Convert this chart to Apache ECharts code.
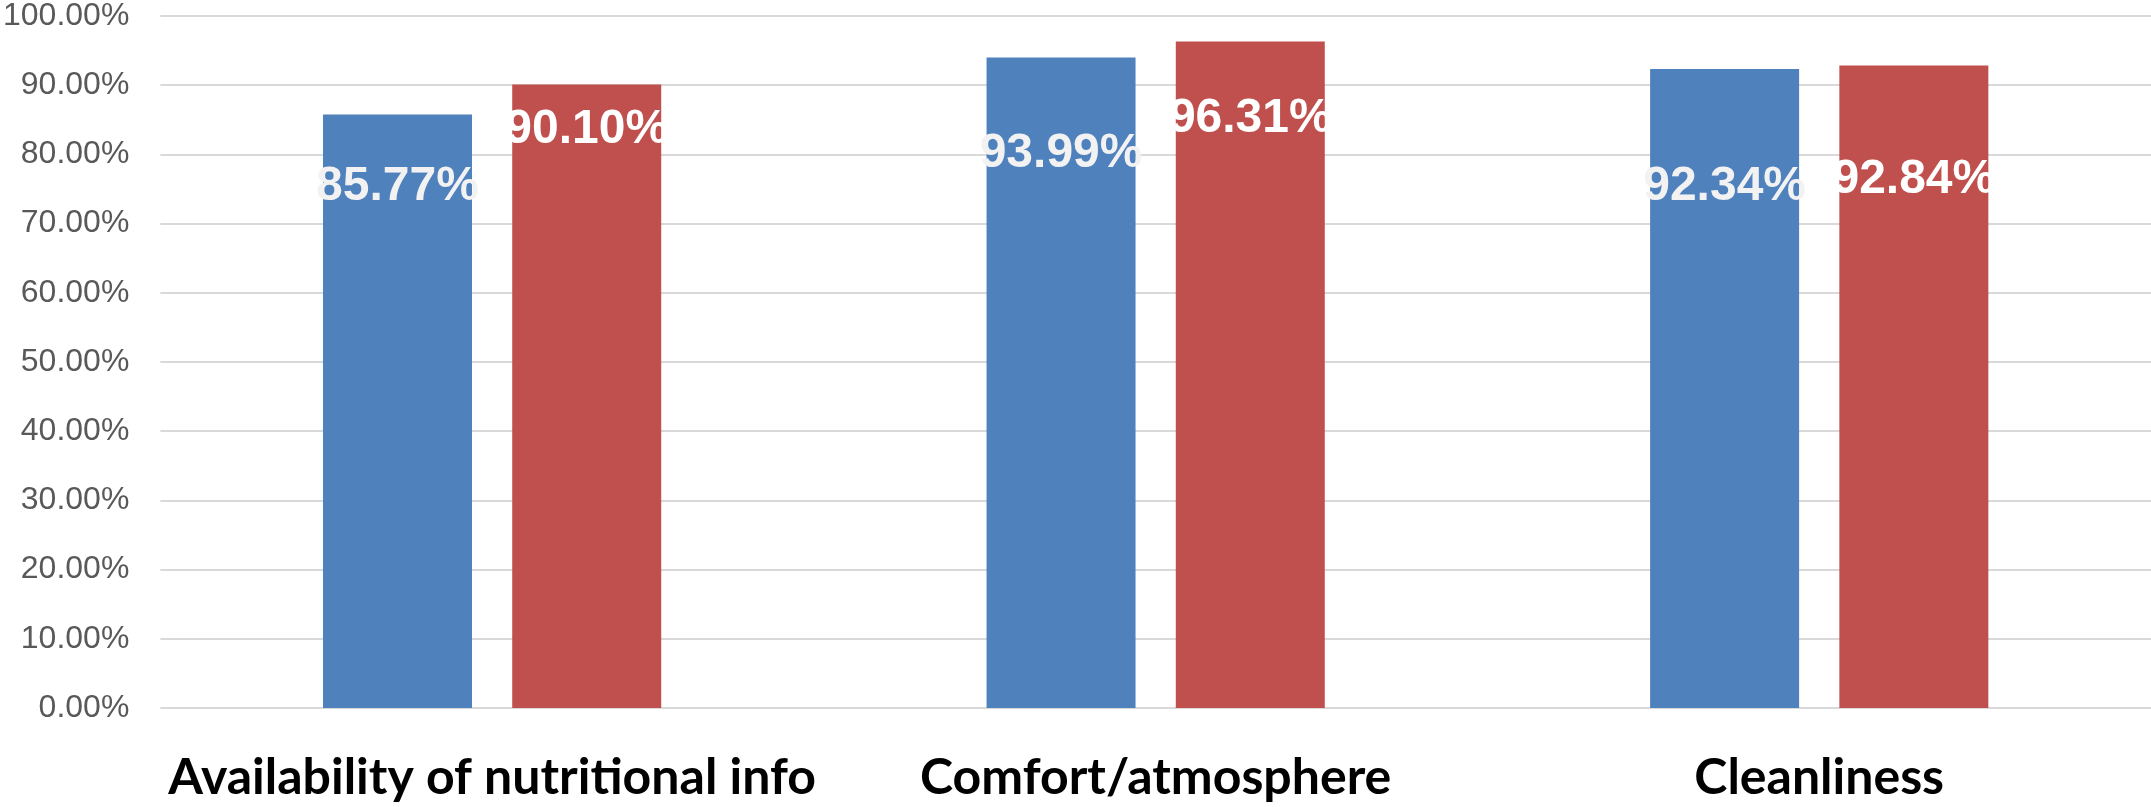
<!DOCTYPE html>
<html>
<head>
<meta charset="utf-8">
<script src="https://cdn.jsdelivr.net/npm/echarts@6/dist/echarts.min.js"></script>
<style>
  html, body { margin: 0; padding: 0; background: #ffffff; }
  #chart { width: 2151px; height: 807px; }
</style>
</head>
<body>
<div id="chart"></div>
<script>
// Survey aspects and satisfaction shares (percent)
const categories = ['Availability of nutritional info', 'Comfort/atmosphere', 'Cleanliness'];
const blueValues = [85.77, 93.99, 92.34];
const redValues = [90.10, 96.31, 92.84];
const yTicks = { min: 0, max: 100, interval: 10 };

// Distance from each bar's top down to the centre of its value label, in px
const blueLabelDrop = [72, 96, 118];
const redLabelDrop = [45, 77, 114];

function barData(values, drops, color) {
  return values.map((v, i) => ({
    value: v,
    label: {
      position: ['50%', drops[i]],
      align: 'center',
      verticalAlign: 'middle',
      color: color
    }
  }));
}

const labelBase = {
  show: true,
  fontFamily: 'Liberation Sans, Arial, sans-serif',
  fontWeight: 'bold',
  fontSize: 48,
  formatter: p => p.value.toFixed(2) + '%'
};

const chart = echarts.init(document.getElementById('chart'), null, { renderer: 'canvas' });
chart.setOption({
  animation: false,
  backgroundColor: '#ffffff',
  grid: { left: 158, right: 0, top: 15, bottom: 99, containLabel: false },
  xAxis: {
    type: 'category',
    data: categories,
    axisLine: { show: false },
    axisTick: { show: false },
    axisLabel: {
      margin: 45,
      color: '#000000',
      fontFamily: 'Lato, sans-serif',
      fontWeight: 'bold',
      fontSize: 50,
      interval: 0
    }
  },
  yAxis: {
    type: 'value',
    min: yTicks.min,
    max: yTicks.max,
    interval: yTicks.interval,
    axisLine: { show: false },
    axisTick: { show: false },
    splitLine: { lineStyle: { color: '#d9d9d9', width: 2 } },
    axisLabel: {
      margin: 31,
      color: '#595959',
      fontFamily: 'Liberation Sans, Arial, sans-serif',
      fontSize: 32,
      formatter: v => v.toFixed(2) + '%'
    }
  },
  series: [
    {
      type: 'bar',
      barWidth: 149,
      barGap: '27%',
      itemStyle: { color: '#4f81bd' },
      label: labelBase,
      data: barData(blueValues, blueLabelDrop, '#f2f2f2')
    },
    {
      type: 'bar',
      barWidth: 149,
      barGap: '27%',
      itemStyle: { color: '#c0504d' },
      label: labelBase,
      data: barData(redValues, redLabelDrop, '#ffffff')
    }
  ]
});
</script>
</body>
</html>
